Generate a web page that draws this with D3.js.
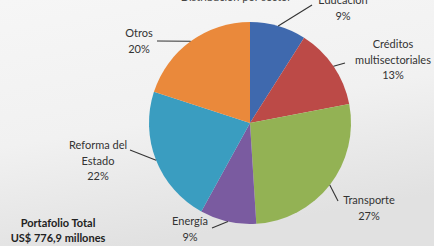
<!DOCTYPE html>
<html><head><meta charset="utf-8">
<script src="https://cdn.jsdelivr.net/npm/d3@7"></script>
<style>html,body{margin:0;padding:0;overflow:hidden;}svg{display:block;}</style>
</head><body>
<svg id="c" width="434" height="246"></svg>
<script>
const categories = ["Educación", "Créditos multisectoriales", "Transporte", "Energía", "Reforma del Estado", "Otros"];
const values = [9, 13, 27, 9, 22, 20];
const labelLines = [["Educación", "9%"], ["Créditos", "multisectoriales", "13%"], ["Transporte", "27%"], ["Energía", "9%"], ["Reforma del", "Estado", "22%"], ["Otros", "20%"]];
const colors = ["#3F69AE", "#BC4A47", "#93B254", "#7A5BA0", "#3A9DC0", "#EA893B"];
const titleText = "Distribución por sector";
const totalLines = ["Portafolio Total", "US$ 776,9 millones"];

// layout (positions of annotation text, not data)
const layout = [
  {x: 343, y: 4, end: [312, 5], anchor: "middle"},
  {x: 393, y: 48, end: [345, 63], anchor: "middle"},
  {x: 369, y: 204, end: [338, 201], anchor: "middle"},
  {x: 190, y: 225, end: [212, 228], anchor: "middle"},
  {x: 98, y: 149, end: [130, 150], anchor: "middle"},
  {x: 139, y: 37, end: [157, 41], anchor: "middle"}
];

const svg = d3.select("#c");
const W = 434, H = 246;
const defs = svg.append("defs");
const g = defs.append("linearGradient").attr("id", "bg").attr("x1", 0).attr("y1", 0).attr("x2", 0.3).attr("y2", 1);
g.append("stop").attr("offset", "0%").attr("stop-color", "#f6f6f6");
g.append("stop").attr("offset", "55%").attr("stop-color", "#f1f1f1");
g.append("stop").attr("offset", "100%").attr("stop-color", "#e1e1e1");
svg.append("rect").attr("width", W).attr("height", H).attr("fill", "url(#bg)");

const cx = 250, cy = 123, r = 101;
const pie = d3.pie().sort(null).value(d => d);
const arcs = pie(values);
const arc = d3.arc().innerRadius(0).outerRadius(r);
const root = svg.append("g").attr("transform", `translate(${cx},${cy})`);
root.selectAll("path").data(arcs).join("path")
  .attr("d", arc).attr("fill", (d, i) => colors[i])
  .attr("stroke", "none");

const font = "Lato, 'Open Sans', sans-serif";
// leader lines
arcs.forEach((a, i) => {
  const m = (a.startAngle + a.endAngle) / 2;
  const px = cx + r * Math.sin(m), py = cy - r * Math.cos(m);
  svg.append("line").attr("x1", px).attr("y1", py)
    .attr("x2", layout[i].end[0]).attr("y2", layout[i].end[1])
    .attr("stroke", "#333").attr("stroke-width", 1.1);
  const t = svg.append("text").attr("text-anchor", layout[i].anchor)
    .attr("font-family", font).attr("font-size", 11).attr("fill", "#333");
  labelLines[i].forEach((s, k) => {
    t.append("tspan").attr("x", layout[i].x).attr("y", layout[i].y + k * 15.5).text(s);
  });
});

svg.append("text").attr("x", 236).attr("y", 1).attr("text-anchor", "middle")
  .attr("font-family", font).attr("font-size", 11).attr("fill", "#444").text(titleText);

const tt = svg.append("text").attr("text-anchor", "middle").attr("font-family", font)
  .attr("font-size", 11).attr("font-weight", "bold").attr("fill", "#222");
totalLines.forEach((s, k) => tt.append("tspan").attr("x", 58).attr("y", 227 + k * 15).text(s));
</script>
</body></html>
